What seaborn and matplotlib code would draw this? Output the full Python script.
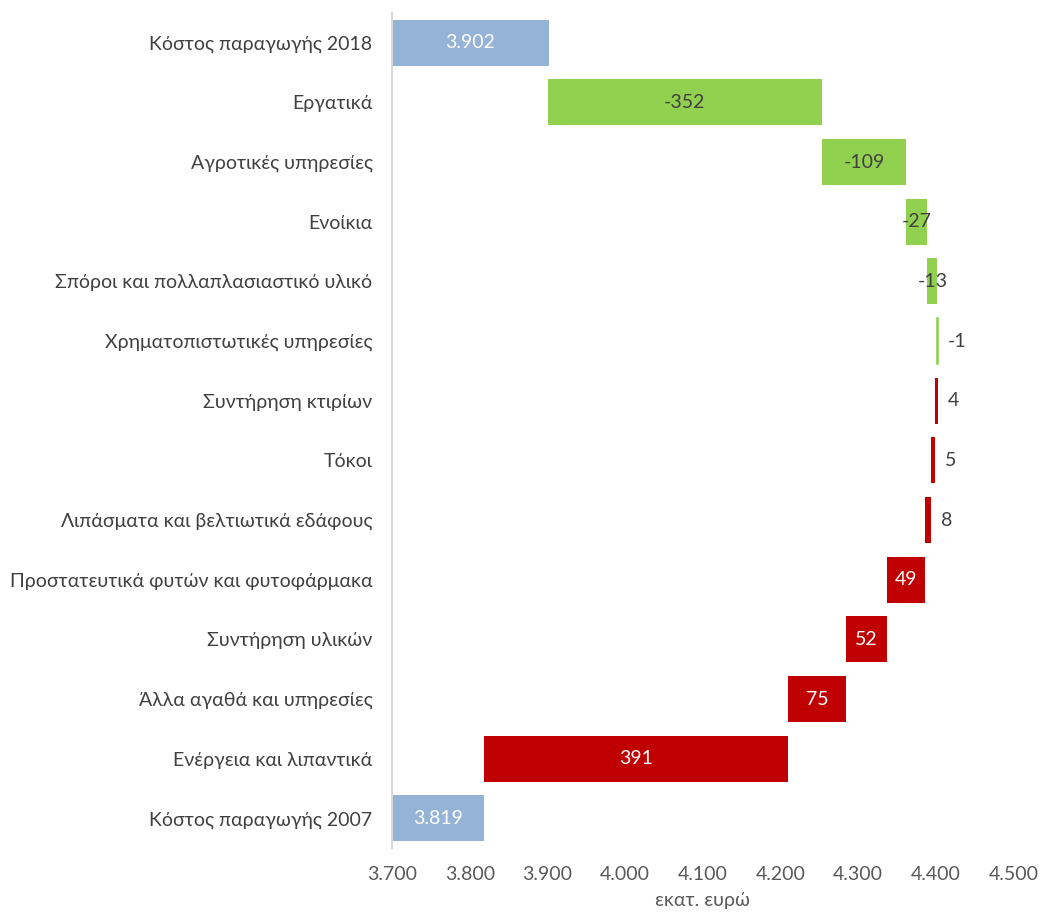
import numpy as np
import pandas as pd
import matplotlib.pyplot as plt
import seaborn as sns

categories = [
    "Κόστος παραγωγής 2018",
    "Εργατικά",
    "Αγροτικές υπηρεσίες",
    "Ενοίκια",
    "Σπόροι και πολλαπλασιαστικό υλικό",
    "Χρηματοπιστωτικές υπηρεσίες",
    "Συντήρηση κτιρίων",
    "Τόκοι",
    "Λιπάσματα και βελτιωτικά εδάφους",
    "Προστατευτικά φυτών και φυτοφάρμακα",
    "Συντήρηση υλικών",
    "Άλλα αγαθά και υπηρεσίες",
    "Ενέργεια και λιπαντικά",
    "Κόστος παραγωγής 2007",
]
values = [3902, -352, -109, -27, -13, -1, 4, 5, 8, 49, 52, 75, 391, 3819]
labels = ["3.902", "-352", "-109", "-27", "-13", "-1", "4", "5", "8",
          "49", "52", "75", "391", "3.819"]
x_ticks = [3700, 3800, 3900, 4000, 4100, 4200, 4300, 4400, 4500]
x_tick_labels = ["3.700", "3.800", "3.900", "4.000", "4.100", "4.200",
                 "4.300", "4.400", "4.500"]

AXIS_MIN = 3700
n = len(categories)

# waterfall runs from the bottom (2007) upwards to 2018
kinds, lefts, widths, ends = [None] * n, [0] * n, [0] * n, [0] * n
running = values[-1]
for i in range(n - 1, -1, -1):
    v = values[i]
    if i == n - 1 or i == 0:
        kinds[i] = "total"
        lefts[i] = AXIS_MIN
        widths[i] = v - AXIS_MIN
        ends[i] = v
    else:
        start = running
        running = running + v
        kinds[i] = "up" if v > 0 else "down"
        lefts[i] = min(start, running)
        widths[i] = abs(v)
        ends[i] = max(start, running)

df = pd.DataFrame({"category": categories, "width": widths, "kind": kinds})
palette = {"total": "#95B3D7", "down": "#92D050", "up": "#C00000"}

sns.set_style("white")
plt.rcParams["font.family"] = ["Lato", "DejaVu Sans"]
FS = 14

fig = plt.figure(figsize=(10.41, 9.18), dpi=100)
ax = fig.add_axes([0.3766, 0.076, 0.597, 0.91])

sns.barplot(data=df, x="width", y="category", hue="kind", palette=palette,
            dodge=False, legend=False, width=0.77, orient="h", ax=ax,
            saturation=1)

# shift each bar to its waterfall start
for p in ax.patches:
    idx = int(round(p.get_y() + p.get_height() / 2))
    p.set_x(lefts[idx])
    p.set_width(widths[idx])
    p.set_linewidth(0)
    if abs(values[idx]) < 2:
        # tiny change: draw as a thin line like the original
        p.set_edgecolor(palette[kinds[idx]])
        p.set_linewidth(1.2)

for i in range(n):
    v = values[i]
    if kinds[i] == "total":
        ax.text(lefts[i] + widths[i] / 2, i, labels[i], ha="center",
                va="center", color="white", fontsize=FS)
    elif abs(v) < 10:
        ax.annotate(labels[i], (ends[i], i), xytext=(7, 0),
                    textcoords="offset points", ha="left", va="center",
                    color="#404040", fontsize=FS)
    else:
        col = "white" if kinds[i] == "up" else "#404040"
        ax.text(lefts[i] + widths[i] / 2, i, labels[i], ha="center",
                va="center", color=col, fontsize=FS)

ax.set_xlim(3700, 4500)
ax.set_ylim(n - 0.5, -0.5)
ax.set_xticks(x_ticks)
ax.set_xticklabels(x_tick_labels)
ax.tick_params(axis="x", length=0, pad=13, labelsize=FS, colors="#595959")
ax.tick_params(axis="y", length=0, pad=14, labelsize=FS, colors="#404040")
ax.set_ylabel("")
ax.set_xlabel("εκατ. ευρώ", fontsize=FS, color="#595959", labelpad=6)

for s in ["top", "right", "bottom"]:
    ax.spines[s].set_visible(False)
ax.spines["left"].set_color("#D9D9D9")
ax.spines["left"].set_linewidth(1.5)

fig.savefig("out.png", dpi=100)
